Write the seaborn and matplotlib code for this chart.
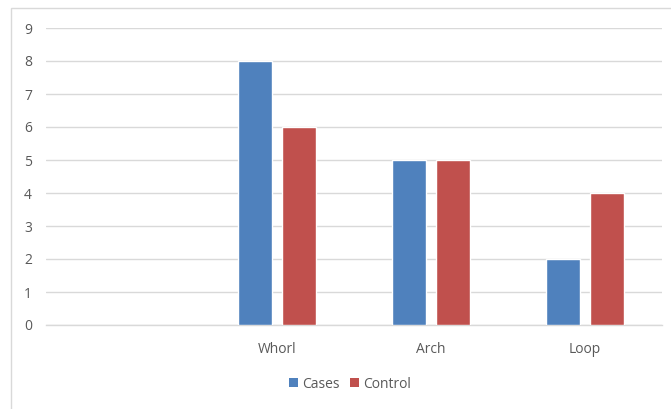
import matplotlib
matplotlib.use("Agg")
import matplotlib.pyplot as plt
from matplotlib.patches import Rectangle, Patch
import numpy as np
import pandas as pd
import seaborn as sns

# Fingerprint pattern counts per group
categories = ["", "Whorl", "Arch", "Loop"]
cases = [np.nan, 8, 5, 2]
control = [np.nan, 6, 5, 4]
series_names = ["Cases", "Control"]
y_ticks = list(range(0, 10))

blue = "#4F81BD"
red = "#C0504D"
text_color = "#595959"
grid_color = "#D9D9D9"

df = pd.DataFrame({
    "Pattern": categories * 2,
    "Group": [series_names[0]] * len(categories) + [series_names[1]] * len(categories),
    "Count": cases + control,
})

sns.set_theme(style="white")
plt.rcParams["font.family"] = ["Open Sans", "DejaVu Sans"]

fig = plt.figure(figsize=(6.71, 4.09), dpi=100)
ax = fig.add_axes([46 / 671, 1 - 325 / 409, 616 / 671, 297 / 409])

sns.barplot(
    data=df, x="Pattern", y="Count", hue="Group",
    order=categories, hue_order=series_names,
    palette=[blue, red], width=0.56, gap=0.21,
    saturation=1, legend=False, ax=ax, zorder=3,
)

ax.set_xlim(-0.5, len(categories) - 0.5)
ax.set_ylim(0, 9)
ax.set_yticks(y_ticks)
ax.set_yticklabels([str(t) for t in y_ticks])
ax.yaxis.grid(True, color=grid_color, linewidth=1.0, zorder=0)
ax.set_axisbelow(True)
for side in ["top", "right", "left"]:
    ax.spines[side].set_visible(False)
ax.spines["bottom"].set_color(grid_color)
ax.spines["bottom"].set_linewidth(1.0)
ax.set_xlabel("")
ax.set_ylabel("")
ax.tick_params(axis="both", length=0, colors=text_color, labelsize=10)
ax.tick_params(axis="x", pad=12)
ax.tick_params(axis="y", pad=10)

# Chart area frame
fig.patches.append(Rectangle((11 / 671, -0.05), 1.0, 1 - 8 / 409 + 0.05,
                             transform=fig.transFigure, fill=False,
                             edgecolor=grid_color, linewidth=1.0))

handles = [Patch(facecolor=blue, edgecolor="none", label=series_names[0]),
           Patch(facecolor=red, edgecolor="none", label=series_names[1])]
fig.legend(handles=handles, loc="center", bbox_to_anchor=(350 / 671, 1 - 384 / 409),
           ncol=2, frameon=False, fontsize=10, labelcolor=text_color,
           handlelength=0.6, handleheight=0.6, handletextpad=0.3, columnspacing=0.8)

fig.savefig("out.png", dpi=100)
